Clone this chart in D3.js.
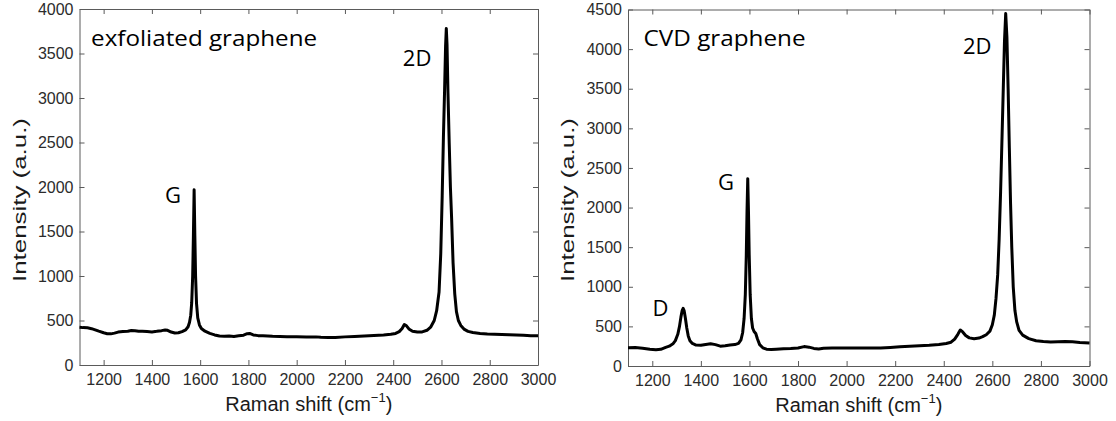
<!DOCTYPE html>
<meta charset="utf-8">
<script src="https://d3js.org/d3.v7.min.js"></script>
<style>
  body { margin: 0; background: #fff; }
  .tick text { font-family: "Liberation Sans", Arial, sans-serif; font-size: 16px; fill: #2b2b2b; }
  .axis-title { font-family: "Liberation Sans", Arial, sans-serif; fill: #1a1a1a; }
  .note { font-family: "Open Sans", sans-serif; font-size: 22px; fill: #000; }
</style>
<div id="my_dataviz"></div>
<script>

// exfoliated graphene spectrum
var exfShift = [1100,1115,1133,1150,1165,1180,1200,1215,1230,1245,1260,1280,1300,1315,1330,1345,1360,1380,1400,1420,1440,1455,1465,1480,1495,1510,1525,1540,1550,1556,1561,1565,1569,1572,1575,1578,1581,1585,1590,1597,1605,1620,1640,1660,1680,1700,1720,1740,1760,1780,1795,1805,1820,1840,1860,1880,1900,1930,1960,2000,2040,2080,2100,2130,2160,2200,2240,2280,2320,2360,2390,2410,2425,2437,2446,2455,2465,2480,2500,2520,2540,2555,2570,2580,2590,2597,2603,2608,2613,2617,2620,2623,2627,2632,2637,2642,2648,2655,2662,2670,2680,2695,2710,2730,2760,2790,2820,2850,2880,2910,2940,2970,3000];
var exfIntensity = [424,420,418,408,395,380,362,352,350,358,370,376,380,388,386,380,378,376,372,378,386,394,390,370,360,362,375,395,430,480,560,700,1000,1450,1970,1450,1000,690,530,450,410,380,355,338,325,322,325,320,328,335,352,355,338,330,328,326,322,320,318,318,314,316,312,308,310,316,320,326,332,338,345,355,375,410,455,440,405,380,370,372,390,425,500,610,820,1250,1900,2550,3100,3580,3780,3600,3050,2500,2000,1650,1150,800,600,500,445,400,378,365,355,348,345,342,340,338,335,330,330];

// CVD graphene spectrum
var cvdShift = [1100,1130,1160,1190,1215,1235,1255,1270,1285,1295,1305,1312,1318,1323,1327,1331,1336,1342,1348,1355,1365,1380,1400,1420,1440,1460,1480,1500,1520,1540,1555,1565,1572,1578,1583,1587,1590,1593,1596,1599,1603,1608,1613,1619,1626,1633,1642,1655,1670,1690,1710,1740,1770,1800,1825,1845,1865,1885,1905,1940,1980,2020,2060,2100,2140,2180,2220,2260,2300,2340,2380,2410,2430,2445,2458,2468,2478,2490,2505,2525,2545,2560,2575,2590,2600,2608,2615,2622,2628,2634,2640,2645,2650,2655,2660,2665,2670,2675,2680,2686,2693,2700,2710,2725,2750,2780,2810,2840,2870,2900,2930,2960,3000];
var cvdIntensity = [230,232,225,212,205,210,235,250,280,320,400,500,620,700,728,700,610,480,380,320,285,265,262,272,280,270,250,255,265,270,285,330,420,600,900,1400,1950,2365,1950,1400,900,600,480,435,410,340,270,230,212,208,212,218,220,228,245,238,222,215,225,228,226,228,226,228,228,235,242,250,255,262,272,285,300,340,400,455,430,385,355,345,352,370,395,440,520,640,850,1150,1600,2200,2900,3500,4100,4450,4150,3500,2750,2050,1500,1000,700,560,450,390,345,318,308,302,306,310,306,296,290];

var xTicks = [1200,1400,1600,1800,2000,2200,2400,2600,2800,3000];
var yTicksLeft = [0,500,1000,1500,2000,2500,3000,3500,4000];
var yTicksRight = [0,500,1000,1500,2000,2500,3000,3500,4000,4500];

// peak labels, anchored in data units (shift, intensity)
var exfNotes = [["exfoliated graphene", 1148, 3584], ["G", 1454, 1820], ["2D", 2440, 3360]];
var cvdNotes = [["CVD graphene", 1164, 4039], ["D", 1201, 631], ["G", 1471, 2221], ["2D", 2479, 3938]];

var svg = d3.select("#my_dataviz")
  .append("svg")
    .attr("width", 1116)
    .attr("height", 421);

svg.append("rect").attr("width", 1116).attr("height", 421).attr("fill", "#fff");

function drawPanel(box, shift, intensity, yMax, yTicks, notes, noteWidths) {
  var x = d3.scaleLinear().domain([1100, 3000]).range([box.left, box.right]);
  var y = d3.scaleLinear().domain([0, yMax]).range([box.bottom, box.top]);
  var fmt = d3.format("d");

  var g = svg.append("g");

  // frame with inward ticks on all sides
  var axB = g.append("g").attr("transform", "translate(0," + box.bottom + ")")
    .call(d3.axisBottom(x).tickValues(xTicks).tickFormat(fmt).tickSizeInner(-5).tickSizeOuter(0).tickPadding(9));
  var axT = g.append("g").attr("transform", "translate(0," + box.top + ")")
    .call(d3.axisTop(x).tickValues(xTicks).tickSizeInner(-5).tickSizeOuter(0).tickFormat(""));
  var axL = g.append("g").attr("transform", "translate(" + box.left + ",0)")
    .call(d3.axisLeft(y).tickValues(yTicks).tickFormat(fmt).tickSizeInner(-5).tickSizeOuter(0).tickPadding(6));
  var axR = g.append("g").attr("transform", "translate(" + box.right + ",0)")
    .call(d3.axisRight(y).tickValues(yTicks).tickSizeInner(-5).tickSizeOuter(0).tickFormat(""));

  [axB, axT, axL, axR].forEach(function(a) {
    a.select(".domain").attr("stroke", "#5a5a5a").attr("stroke-width", 1);
    a.selectAll(".tick line").attr("stroke", "#5a5a5a");
  });

  // spectrum
  var pts = shift.map(function(s, i) { return [s, intensity[i]]; });
  g.append("path")
    .datum(pts)
    .attr("fill", "none")
    .attr("stroke", "#000")
    .attr("stroke-width", 3)
    .attr("stroke-linejoin", "round")
    .attr("d", d3.line().x(function(d) { return x(d[0]); }).y(function(d) { return y(d[1]); }));

  // axis titles
  var cx = (box.left + box.right) / 2;
  var xt = g.append("text").attr("class", "axis-title")
    .attr("x", cx).attr("y", box.bottom + 46)
    .attr("text-anchor", "middle")
    .style("font-size", "20px");
  xt.append("tspan").text("Raman shift (cm");
  xt.append("tspan").text("\u22121").style("font-size", "13px").attr("dy", -9);
  xt.append("tspan").text(")").attr("dy", 9);

  g.append("text").attr("class", "axis-title")
    .attr("transform", "translate(" + (box.left - 54) + "," + 200 + ") rotate(-90)")
    .attr("text-anchor", "middle")
    .style("font-size", "19px")
    .attr("textLength", 164)
    .attr("lengthAdjust", "spacingAndGlyphs")
    .text("Intensity (a.u.)");

  // labels
  notes.forEach(function(n, i) {
    var t = g.append("text").attr("class", "note")
      .attr("x", x(n[1])).attr("y", y(n[2]))
      .text(n[0]);
    if (noteWidths[i]) t.attr("textLength", noteWidths[i]).attr("lengthAdjust", "spacingAndGlyphs");
  });
}

drawPanel({left: 79.5, right: 538, top: 9, bottom: 365}, exfShift, exfIntensity, 4000, yTicksLeft, exfNotes, [226]);
drawPanel({left: 628, right: 1089.5, top: 9.5, bottom: 366}, cvdShift, cvdIntensity, 4500, yTicksRight, cvdNotes, [162]);

</script>
